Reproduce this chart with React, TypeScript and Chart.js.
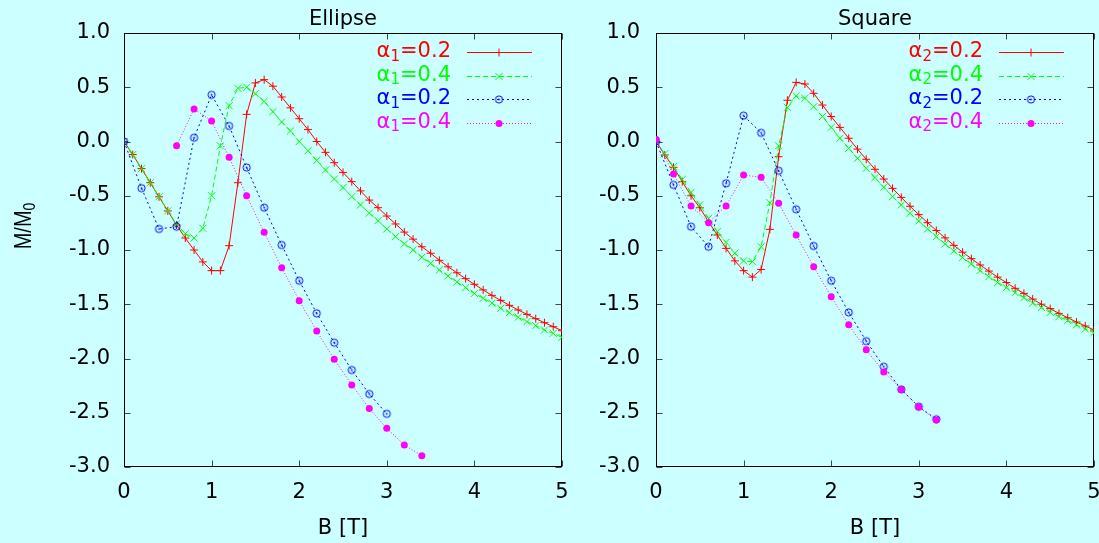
import React, { useEffect, useRef } from 'react';
import { Chart, registerables } from 'chart.js';

Chart.register(...registerables);

const FONT = 'DejaVu Sans';
const BG = '#ccffff';

// Field values (tesla)
const fieldFine = [
  0, 0.1, 0.2, 0.3, 0.4, 0.5, 0.6, 0.7, 0.8, 0.9,
  1.0, 1.1, 1.2, 1.3, 1.4, 1.5, 1.6, 1.7, 1.8, 1.9,
  2.0, 2.1, 2.2, 2.3, 2.4, 2.5, 2.6, 2.7, 2.8, 2.9,
  3.0, 3.1, 3.2, 3.3, 3.4, 3.5, 3.6, 3.7, 3.8, 3.9,
  4.0, 4.1, 4.2, 4.3, 4.4, 4.5, 4.6, 4.7, 4.8, 4.9, 5.0,
];
const fieldCoarseTo30 = [0, 0.2, 0.4, 0.6, 0.8, 1.0, 1.2, 1.4, 1.6, 1.8, 2.0, 2.2, 2.4, 2.6, 2.8, 3.0];
const fieldCoarseFrom06 = [0.6, 0.8, 1.0, 1.2, 1.4, 1.6, 1.8, 2.0, 2.2, 2.4, 2.6, 2.8, 3.0, 3.2, 3.4];
const fieldCoarseTo32 = [0, 0.2, 0.4, 0.6, 0.8, 1.0, 1.2, 1.4, 1.6, 1.8, 2.0, 2.2, 2.4, 2.6, 2.8, 3.0, 3.2];

// Ellipse, M/M0
const ellipseRed = [
  0, -0.12, -0.25, -0.38, -0.51, -0.64, -0.77, -0.89, -1.0, -1.11,
  -1.19, -1.19, -0.96, -0.38, 0.25, 0.54, 0.57, 0.51, 0.41, 0.31,
  0.21, 0.11, 0.0, -0.1, -0.195, -0.285, -0.37, -0.455, -0.54, -0.61,
  -0.687, -0.76, -0.835, -0.9, -0.97, -1.03, -1.095, -1.155, -1.21, -1.264,
  -1.316, -1.368, -1.418, -1.464, -1.51, -1.553, -1.593, -1.633, -1.67, -1.707, -1.744,
];
const ellipseGreen = [
  0, -0.12, -0.25, -0.38, -0.51, -0.64, -0.76, -0.85, -0.89, -0.8,
  -0.5, -0.04, 0.33, 0.49, 0.5, 0.44, 0.37, 0.275, 0.18, 0.097,
  0.0, -0.085, -0.174, -0.263, -0.346, -0.425, -0.508, -0.585, -0.66, -0.73,
  -0.806, -0.877, -0.944, -1.0, -1.067, -1.123, -1.184, -1.24, -1.295, -1.347,
  -1.4, -1.445, -1.49, -1.537, -1.578, -1.62, -1.66, -1.697, -1.737, -1.768, -1.805,
];
const ellipseBlue = [
  0, -0.43, -0.806, -0.785, 0.035, 0.43, 0.143, -0.24, -0.61, -0.954,
  -1.283, -1.584, -1.854, -2.106, -2.327, -2.51,
];
const ellipseMagenta = [
  -0.04, 0.3, 0.19, -0.146, -0.5, -0.837, -1.163, -1.467, -1.747, -2.008,
  -2.244, -2.46, -2.644, -2.797, -2.896,
];

// Square, M/M0
const squareRed = [
  0, -0.124, -0.238, -0.37, -0.5, -0.61, -0.74, -0.862, -0.985, -1.1,
  -1.19, -1.25, -1.18, -0.81, -0.14, 0.38, 0.545, 0.53, 0.444, 0.336,
  0.23, 0.13, 0.03, -0.07, -0.164, -0.256, -0.346, -0.432, -0.515, -0.597,
  -0.674, -0.748, -0.82, -0.888, -0.957, -1.02, -1.08, -1.138, -1.194, -1.25,
  -1.3, -1.353, -1.4, -1.452, -1.5, -1.54, -1.584, -1.624, -1.664, -1.7, -1.737,
];
const squareGreen = [
  0, -0.113, -0.232, -0.35, -0.47, -0.585, -0.708, -0.83, -0.93, -1.03,
  -1.1, -1.107, -0.97, -0.564, -0.04, 0.315, 0.42, 0.398, 0.32, 0.23,
  0.13, 0.03, -0.063, -0.155, -0.247, -0.333, -0.422, -0.508, -0.585, -0.662,
  -0.733, -0.806, -0.877, -0.945, -1.01, -1.07, -1.13, -1.19, -1.246, -1.3,
  -1.347, -1.393, -1.44, -1.49, -1.53, -1.575, -1.615, -1.65, -1.69, -1.728, -1.762,
];
const squareBlue = [
  0, -0.4, -0.785, -0.97, -0.385, 0.238, 0.08, -0.27, -0.625, -0.963,
  -1.283, -1.575, -1.84, -2.076, -2.285, -2.444, -2.56,
];
const squareMagenta = [
  0.02, -0.3, -0.594, -0.748, -0.594, -0.309, -0.33, -0.57, -0.862, -1.154,
  -1.43, -1.69, -1.92, -2.124, -2.285, -2.447, -2.567,
];

const alphaValues = ['0.2', '0.4', '0.2', '0.4'];

type Marker = 'plus' | 'cross' | 'ring' | 'dot';
const seriesStyles: { color: string; dash: number[]; marker: Marker }[] = [
  { color: '#ff0000', dash: [], marker: 'plus' },
  { color: '#00ff00', dash: [5, 3], marker: 'cross' },
  { color: '#0000ff', dash: [2, 3], marker: 'ring' },
  { color: '#ff00ff', dash: [1, 2], marker: 'dot' },
];

function makeRing(color: string): HTMLCanvasElement {
  const c = document.createElement('canvas');
  c.width = 11;
  c.height = 11;
  const g = c.getContext('2d')!;
  g.strokeStyle = color;
  g.lineWidth = 1;
  g.beginPath();
  g.arc(5.5, 5.5, 3.6, 0, Math.PI * 2);
  g.stroke();
  g.fillStyle = color;
  g.beginPath();
  g.arc(5.5, 5.5, 0.9, 0, Math.PI * 2);
  g.fill();
  return c;
}

function drawMarker(ctx: CanvasRenderingContext2D, kind: Marker, color: string, x: number, y: number, ring: HTMLCanvasElement) {
  ctx.save();
  ctx.setLineDash([]);
  ctx.strokeStyle = color;
  ctx.fillStyle = color;
  ctx.lineWidth = 1;
  ctx.beginPath();
  if (kind === 'plus') {
    ctx.moveTo(x - 4, y);
    ctx.lineTo(x + 4, y);
    ctx.moveTo(x, y - 4);
    ctx.lineTo(x, y + 4);
    ctx.stroke();
  } else if (kind === 'cross') {
    const d = 3.5;
    ctx.moveTo(x - d, y - d);
    ctx.lineTo(x + d, y + d);
    ctx.moveTo(x + d, y - d);
    ctx.lineTo(x - d, y + d);
    ctx.stroke();
  } else if (kind === 'ring') {
    ctx.drawImage(ring, x - ring.width / 2, y - ring.height / 2);
  } else {
    ctx.arc(x, y, 3.5, 0, Math.PI * 2);
    ctx.fill();
  }
  ctx.restore();
}

// Border box with inward tick marks on all four sides
const framePlugin = {
  id: 'frameBox',
  beforeDatasetsDraw(chart: any) {
    const { ctx, chartArea } = chart;
    const left = Math.round(chartArea.left) + 0.5;
    const right = Math.round(chartArea.right) - 0.5;
    const top = Math.round(chartArea.top) + 0.5;
    const bottom = Math.round(chartArea.bottom) - 0.5;
    const xs = chart.scales.x;
    const ys = chart.scales.y;
    ctx.save();
    ctx.strokeStyle = '#444444';
    ctx.lineWidth = 1;
    ctx.beginPath();
    xs.ticks.forEach((t: any) => {
      const px = Math.round(xs.getPixelForValue(t.value)) + 0.5;
      ctx.moveTo(px, bottom);
      ctx.lineTo(px, bottom - 6);
      ctx.moveTo(px, top);
      ctx.lineTo(px, top + 6);
    });
    ys.ticks.forEach((t: any) => {
      const py = Math.round(ys.getPixelForValue(t.value)) + 0.5;
      ctx.moveTo(left, py);
      ctx.lineTo(left + 6, py);
      ctx.moveTo(right, py);
      ctx.lineTo(right - 6, py);
    });
    ctx.stroke();
    ctx.strokeStyle = '#000000';
    ctx.strokeRect(left, top, right - left, bottom - top);
    ctx.restore();
  },
};

// Panel heading centred over the plot area
const headingPlugin = {
  id: 'panelHeading',
  afterDraw(chart: any, _args: any, opts: any) {
    const { ctx, chartArea } = chart;
    ctx.save();
    ctx.fillStyle = '#000';
    ctx.font = `21px "${FONT}"`;
    ctx.textAlign = 'center';
    ctx.textBaseline = 'middle';
    ctx.fillText(opts.text, (chartArea.left + chartArea.right) / 2, 20);
    ctx.restore();
  },
};

// Key in the upper right: coloured text with a subscript, then a line sample
const keyPlugin = {
  id: 'seriesKey',
  afterDatasetsDraw(chart: any, _args: any, opts: any) {
    const { ctx, chartArea } = chart;
    const big = `21px "${FONT}"`;
    const small = `15px "${FONT}"`;
    chart.data.datasets.forEach((_ds: any, i: number) => {
      const st = seriesStyles[i];
      const y = chartArea.top + 19 + i * 23.5;
      const parts: [string, string, number][] = [
        ['α', big, 0],
        [opts.sub, small, 5],
        ['=' + alphaValues[i], big, 0],
      ];
      ctx.save();
      ctx.fillStyle = st.color;
      ctx.textBaseline = 'middle';
      ctx.textAlign = 'left';
      let total = 0;
      const widths = parts.map(([s, f]) => {
        ctx.font = f;
        const w = ctx.measureText(s).width;
        total += w;
        return w;
      });
      let x = chartArea.right - 111 - total;
      parts.forEach(([s, f, dy], k) => {
        ctx.font = f;
        ctx.fillText(s, x, y + dy);
        x += widths[k];
      });
      ctx.strokeStyle = st.color;
      ctx.lineWidth = 1;
      ctx.setLineDash(st.dash);
      ctx.beginPath();
      ctx.moveTo(chartArea.right - 95, Math.round(y) + 0.5);
      ctx.lineTo(chartArea.right - 30, Math.round(y) + 0.5);
      ctx.stroke();
      ctx.restore();
      drawMarker(ctx, st.marker, st.color, chartArea.right - 63, Math.round(y) + 0.5, opts.ring);
    });
  },
};

// Rotated axis label M/M0 with subscript
const yLabelPlugin = {
  id: 'yLabel',
  afterDraw(chart: any) {
    const { ctx } = chart;
    ctx.save();
    ctx.translate(24, 226);
    ctx.rotate(-Math.PI / 2);
    ctx.scale(1, 1.2);
    ctx.fillStyle = '#000';
    ctx.textBaseline = 'middle';
    ctx.textAlign = 'left';
    const main = 'M/M';
    const sub = '0';
    ctx.font = '20px "Liberation Sans"';
    const w1 = ctx.measureText(main).width;
    ctx.font = '14px "Liberation Sans"';
    const w2 = ctx.measureText(sub).width;
    const start = -(w1 + w2) / 2;
    ctx.font = '20px "Liberation Sans"';
    ctx.fillText(main, start, 0);
    ctx.font = '14px "Liberation Sans"';
    ctx.fillText(sub, start + w1, 5);
    ctx.restore();
  },
};

interface PanelSpec {
  heading: string;
  sub: string;
  series: { x: number[]; y: number[] }[];
  yAxisWidth: number;
  tickPad: number;
  rightPad: number;
  withYLabel: boolean;
}

function buildConfig(spec: PanelSpec, ring: HTMLCanvasElement): any {
  const tickFont = { family: FONT, size: 21, lineHeight: 1.2 };
  const datasets = spec.series.map((s, i) => {
    const st = seriesStyles[i];
    let pointStyle: any = 'circle';
    let pointRadius = 3.5;
    let pointBorderWidth = 1;
    if (st.marker === 'plus') { pointStyle = 'cross'; pointRadius = 4; }
    if (st.marker === 'cross') { pointStyle = 'crossRot'; pointRadius = 5; }
    if (st.marker === 'ring') { pointStyle = ring; pointRadius = 4; }
    if (st.marker === 'dot') { pointStyle = 'circle'; pointRadius = 3.5; pointBorderWidth = 0; }
    return {
      label: 'α' + spec.sub + '=' + alphaValues[i],
      data: s.x.map((x, k) => ({ x, y: s.y[k] })),
      borderColor: st.color,
      backgroundColor: st.color,
      borderWidth: 1,
      borderDash: st.dash,
      pointStyle,
      pointRadius,
      pointBorderWidth,
      pointBorderColor: st.color,
      pointBackgroundColor: st.color,
      tension: 0,
      fill: false,
      order: 3 - i,
    };
  });
  return {
    type: 'line',
    data: { datasets },
    options: {
      responsive: false,
      animation: false,
      devicePixelRatio: 1,
      layout: { padding: { left: 0, right: spec.rightPad, top: 33, bottom: 0 } },
      plugins: {
        legend: { display: false },
        tooltip: { enabled: false },
        title: { display: false },
        panelHeading: { text: spec.heading },
        seriesKey: { sub: spec.sub, ring },
      },
      scales: {
        x: {
          type: 'linear',
          min: 0,
          max: 5,
          afterFit: (s: any) => { s.height = 76; },
          grid: { display: false, drawTicks: false },
          border: { display: false },
          ticks: {
            stepSize: 1,
            padding: 13,
            color: '#000',
            font: tickFont,
            maxRotation: 0,
            autoSkip: false,
            callback: (v: any) => String(v),
          },
          title: {
            display: true,
            text: 'B [T]',
            color: '#000',
            font: tickFont,
            padding: { top: 0, bottom: 2 },
          },
        },
        y: {
          type: 'linear',
          min: -3,
          max: 1,
          afterFit: (s: any) => { s.width = spec.yAxisWidth; },
          grid: { display: false, drawTicks: false },
          border: { display: false },
          ticks: {
            stepSize: 0.5,
            padding: spec.tickPad,
            color: '#000',
            font: tickFont,
            autoSkip: false,
            callback: (v: any) => Number(v).toFixed(1),
          },
        },
      },
    },
    plugins: spec.withYLabel
      ? [framePlugin, headingPlugin, keyPlugin, yLabelPlugin]
      : [framePlugin, headingPlugin, keyPlugin],
  };
}

export default function App() {
  const leftRef = useRef<HTMLCanvasElement>(null);
  const rightRef = useRef<HTMLCanvasElement>(null);

  useEffect(() => {
    const ring = makeRing('#0000ff');
    const ellipse = new Chart(
      leftRef.current!,
      buildConfig(
        {
          heading: 'Ellipse',
          sub: '1',
          series: [
            { x: fieldFine, y: ellipseRed },
            { x: fieldFine, y: ellipseGreen },
            { x: fieldCoarseTo30, y: ellipseBlue },
            { x: fieldCoarseFrom06, y: ellipseMagenta },
          ],
          yAxisWidth: 124,
          tickPad: 14,
          rightPad: 28,
          withYLabel: true,
        },
        ring,
      ),
    );
    const square = new Chart(
      rightRef.current!,
      buildConfig(
        {
          heading: 'Square',
          sub: '2',
          series: [
            { x: fieldFine, y: squareRed },
            { x: fieldFine, y: squareGreen },
            { x: fieldCoarseTo32, y: squareBlue },
            { x: fieldCoarseTo32, y: squareMagenta },
          ],
          yAxisWidth: 66,
          tickPad: 16,
          rightPad: 26,
          withYLabel: false,
        },
        ring,
      ),
    );
    return () => {
      ellipse.destroy();
      square.destroy();
    };
  }, []);

  return (
    <div
      style={{
        position: 'fixed',
        left: 0,
        top: 0,
        width: 1099,
        height: 543,
        overflow: 'hidden',
        background: BG,
      }}
    >
      <canvas ref={leftRef} width={590} height={543} style={{ position: 'absolute', left: 0, top: 0 }} />
      <canvas ref={rightRef} width={530} height={543} style={{ position: 'absolute', left: 590, top: 0 }} />
    </div>
  );
}
